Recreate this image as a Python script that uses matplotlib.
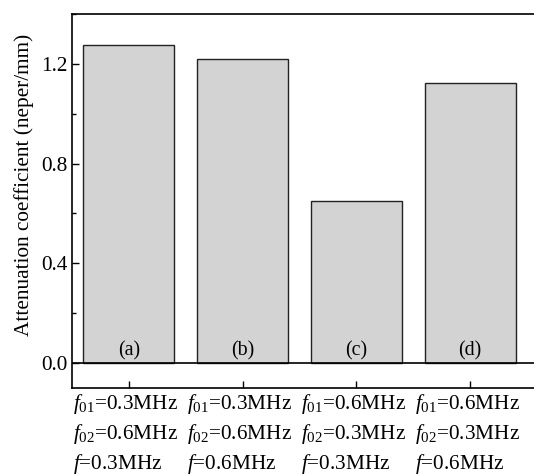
import numpy as np
import matplotlib.pyplot as plt
import matplotlib.transforms as mtransforms
from matplotlib.ticker import MultipleLocator

plt.rcParams['font.family'] = ['Liberation Serif', 'DejaVu Serif']
plt.rcParams['mathtext.fontset'] = 'custom'
plt.rcParams['mathtext.rm'] = 'Liberation Serif'
plt.rcParams['mathtext.it'] = 'Liberation Serif:italic'

cases = ['(a)', '(b)', '(c)', '(d)']
atten = [1.275, 1.219, 0.648, 1.123]
f01 = ['0.3', '0.3', '0.6', '0.6']
f02 = ['0.6', '0.6', '0.3', '0.3']
f = ['0.3', '0.6', '0.3', '0.6']

tick_labels = ['$f_{01}$=%sMHz\n$f_{02}$=%sMHz\n$f$=%sMHz' % (a, b, c)
               for a, b, c in zip(f01, f02, f)]

fs = 15.3

fig = plt.figure(figsize=(5.34, 4.75), dpi=100)
# axes runs past the right edge, like the cropped original
ax = fig.add_axes([72 / 534, 1 - 388 / 475, 480 / 534, 374 / 475])

x = np.arange(len(cases))
ax.bar(x, atten, width=0.8, color='#d3d3d3', edgecolor='#222222', linewidth=1.0)
for xi, lab in zip(x, cases):
    ax.text(xi, 0.012, lab, ha='center', va='bottom', fontsize=fs - 1)

ax.set_xlim(-0.5, 3.72)
ax.set_ylim(-0.1, 1.4)
ax.yaxis.set_major_locator(MultipleLocator(0.4))
ax.yaxis.set_minor_locator(MultipleLocator(0.2))
ax.axhline(0, color='black', linewidth=1.2)

ax.set_xticks(x)
ax.set_xticklabels(tick_labels, fontsize=fs, multialignment='left', linespacing=1.34)
ax.tick_params(axis='both', which='major', direction='in', length=5, width=1, labelsize=fs)
ax.tick_params(axis='y', which='minor', direction='in', length=3, width=1)
ax.tick_params(axis='x', pad=3)
ax.set_yticks([0.0, 0.4, 0.8, 1.2])
ax.set_yticklabels(['0.0', '0.4', '0.8', '1.2'])
shift = mtransforms.ScaledTranslation(-3 / 100, 0, fig.dpi_scale_trans)
for t in ax.get_xticklabels():
    t.set_transform(t.get_transform() + shift)

ax.set_ylabel('Attenuation coefficient (neper/mm)', fontsize=fs)
ax.yaxis.set_label_coords(-0.08, 0.543)

for s in ax.spines.values():
    s.set_linewidth(1.2)

fig.savefig('out.png', dpi=100)
